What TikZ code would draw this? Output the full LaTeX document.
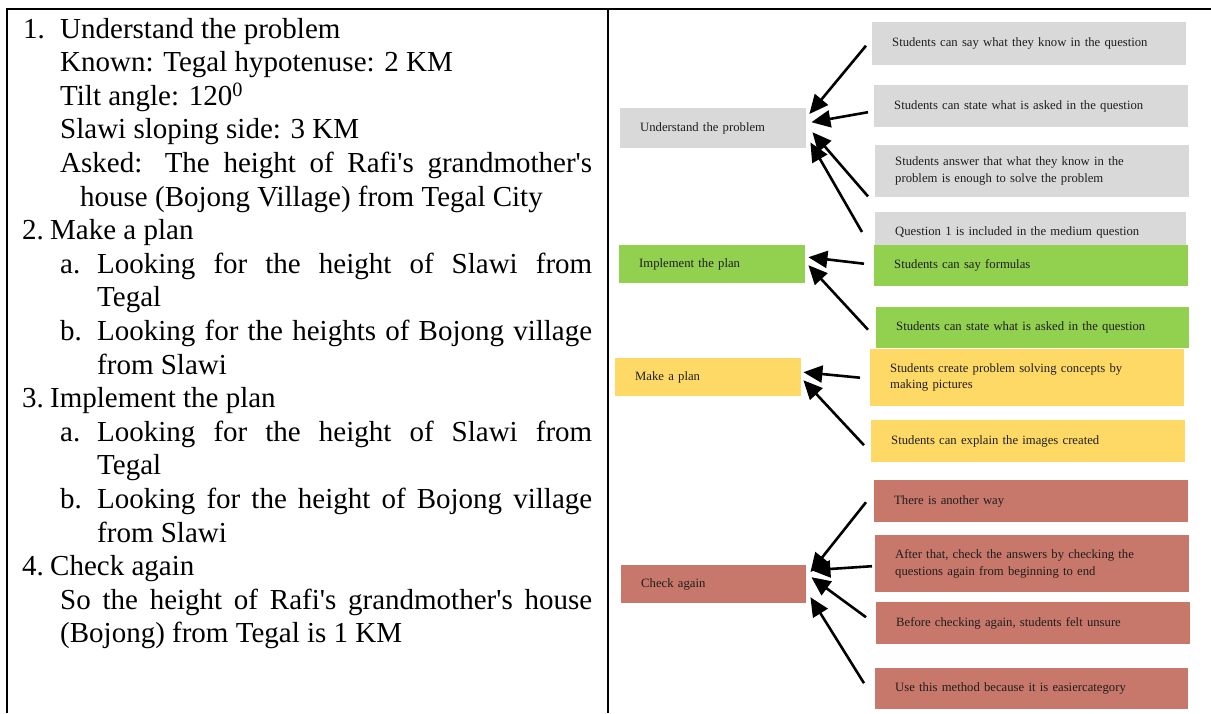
\documentclass[tikz,border=0pt]{standalone}
\usepackage{fontspec}
\setmainfont{Liberation Serif}
\usetikzlibrary{arrows.meta}
\newcommand\apos{\textquotesingle}
\definecolor{boxgrey}{HTML}{D9D9D9}
\definecolor{boxgreen}{HTML}{92D050}
\definecolor{boxyellow}{HTML}{FFD966}
\definecolor{boxred}{HTML}{C8776B}
\definecolor{boxtext}{HTML}{1E1E1E}
\begin{document}
\begin{tikzpicture}[x=1pt,y=-1pt,
  lt/.style={anchor=base west,inner sep=0pt,font=\fontsize{29}{33.6}\selectfont},
  card/.style={anchor=north west,inner xsep=20pt,inner ysep=0pt,align=left,
    text=boxtext,font=\fontsize{12.7}{16.5}\selectfont},
  lbl/.style={card,inner xsep=20pt},
  arr/.style={line width=2.6pt,-{Triangle[length=19pt,width=17pt]}},
  rule/.style={line width=2pt}]
\useasboundingbox (0,0) rectangle (1211,713);

% table frame
\draw[rule] (7,713) -- (7,9) -- (1211,9);
\draw[rule] (608,9) -- (608,713);

% left column: worked solution
\node[lt] (n1) at (23,38) {1.};
\node[lt] (t0) at (60,38) {Understand the problem};
\node[lt] (t1) at (60,71.6) {Known: Tegal hypotenuse: 2 KM};
\node[lt] (t2) at (60,105.2) {Tilt angle: 120\textsuperscript{0}};
\node[lt] (t3) at (60,138.8) {Slawi sloping side: 3 KM};
\node[lt] (t4) at (60,172.4) {\makebox[532pt][s]{Asked: The height of Rafi\apos s grandmother\apos s}};
\node[lt] (t5) at (80,206) {house (Bojong Village) from Tegal City};
\node[lt] (t6) at (22,239.6) {2.\kern-1pt\ Make a plan};
\node[lt] (a1) at (60,273.2) {a.};
\node[lt] (t7) at (97,273.2) {\makebox[495pt][s]{Looking for the height of Slawi from}};
\node[lt] (t8) at (97,306.8) {Tegal};
\node[lt] (b1) at (60,340.4) {b.};
\node[lt] (t9) at (97,340.4) {\makebox[495pt][s]{Looking for the heights of Bojong village}};
\node[lt] (t10) at (97,374) {from Slawi};
\node[lt] (t11) at (22,407.6) {3.\kern-1pt\ Implement the plan};
\node[lt] (a2) at (60,441.2) {a.};
\node[lt] (t12) at (97,441.2) {\makebox[495pt][s]{Looking for the height of Slawi from}};
\node[lt] (t13) at (97,474.8) {Tegal};
\node[lt] (b2) at (60,508.4) {b.};
\node[lt] (t14) at (97,508.4) {\makebox[495pt][s]{Looking for the height of Bojong village}};
\node[lt] (t15) at (97,542) {from Slawi};
\node[lt] (t16) at (22,575.6) {4.\kern-1pt\ Check again};
\node[lt] (t17) at (60,609.2) {\makebox[532pt][s]{So the height of Rafi\apos s grandmother\apos s house}};
\node[lt] (t18) at (60,642.8) {(Bojong) from Tegal is 1 KM};

% right column: understand the problem
\node[lbl,fill=boxgrey,text width=146pt,minimum height=40pt] (u) at (620,108) {Understand the problem};
\node[card,fill=boxgrey,text width=274pt,minimum height=43pt] (g1) at (872,22) {Students can say what they know in the question};
\node[card,fill=boxgrey,text width=274pt,minimum height=42pt] (g2) at (874,85) {Students can state what is asked in the question};
\node[card,fill=boxgrey,text width=274pt,minimum height=52pt] (g3) at (875,145) {Students answer that what they know in the\\problem is enough to solve the problem};
\node[card,fill=boxgrey,text width=271pt,inner ysep=14pt] (g4) at (875,212) {Question 1 is included in the medium question};

% implement the plan
\node[lbl,fill=boxgreen,text width=146pt,minimum height=38pt] (i) at (619,245) {Implement the plan};
\node[card,fill=boxgreen,text width=274pt,minimum height=41pt] (gr1) at (874,245) {Students can say formulas};
\node[card,fill=boxgreen,text width=273pt,minimum height=41pt] (gr2) at (876,307) {Students can state what is asked in the question};

% make a plan
\node[lbl,fill=boxyellow,text width=146pt,minimum height=38pt] (m) at (615,358) {Make a plan};
\node[card,fill=boxyellow,text width=274pt,minimum height=57pt] (y1) at (870,349) {Students create problem solving concepts by\\making pictures};
\node[card,fill=boxyellow,text width=274pt,minimum height=42pt] (y2) at (871,420) {Students can explain the images created};

% check again
\node[lbl,fill=boxred,text width=145pt,minimum height=38pt] (c) at (621,565) {Check again};
\node[card,fill=boxred,text width=274pt,minimum height=42pt] (r1) at (874,480) {There is another way};
\node[card,fill=boxred,text width=274pt,minimum height=57pt] (r2) at (875,535) {After that, check the answers by checking the\\questions again from beginning to end};
\node[card,fill=boxred,text width=274pt,minimum height=42pt] (r3) at (876,602) {Before checking again, students felt unsure};
\node[card,fill=boxred,text width=273pt,minimum height=41pt] (r4) at (875,668) {Use this method because it is easiercategory};

% arrows into the step boxes
\draw[arr] ([shift={(-6,2)}]g1.west) -- ([shift={(3,6)}]u.north east);
\draw[arr] ([shift={(-6,6)}]g2.west) -- ([shift={(5,-6)}]u.east);
\draw[arr] ([shift={(-7,-1)}]g3.south west) -- ([shift={(6,4)}]u.east);
\draw[arr] ([shift={(-13,20)}]g4.north west) -- ([shift={(4,-6)}]u.south east);

\draw[arr] ([shift={(-10,-2)}]gr1.west) -- ([shift={(3,-7)}]i.east);
\draw[arr] ([shift={(-8,2)}]gr2.west) -- ([shift={(3,1)}]i.east);

\draw[arr] ([shift={(-10,0)}]y1.west) -- ([shift={(2,-5)}]m.east);
\draw[arr] ([shift={(-7,4)}]y2.west) -- ([shift={(2,3)}]m.east);

\draw[arr] ([shift={(-8,1)}]r1.west) -- ([shift={(4,-12)}]c.east);
\draw[arr] ([shift={(-3,2.5)}]r2.west) -- ([shift={(5,-14)}]c.east);
\draw[arr] ([shift={(-10,-6)}]r3.west) -- ([shift={(5,-7)}]c.east);
\draw[arr] ([shift={(-11,-5.5)}]r4.west) -- ([shift={(4,13)}]c.east);
\end{tikzpicture}
\end{document}
